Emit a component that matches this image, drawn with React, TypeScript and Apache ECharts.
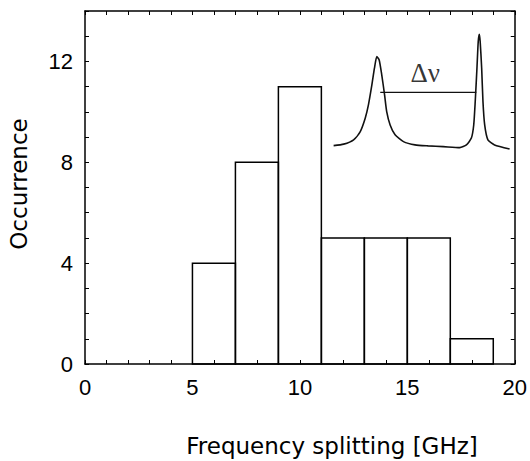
import React, { useEffect, useRef } from "react";
import * as echarts from "echarts";

// Histogram bins (GHz) and occurrences
const binStarts = [5, 7, 9, 11, 13, 15, 17];
const binWidth = 2;
const counts = [4, 8, 11, 5, 5, 5, 1];

// Tick labels
const xTickLabels = [0, 5, 10, 15, 20];
const yTickLabels = [0, 4, 8, 12];

// Inset spectrum (in main-axis units)
const insetX = [11.57, 12.04, 12.5, 12.81, 13.04, 13.19, 13.35, 13.47, 13.58, 13.69, 13.81, 13.94, 14.04, 14.2, 14.43, 14.82, 15.36, 15.97, 16.67, 17.44, 17.75, 17.98, 18.09, 18.16, 18.24, 18.3, 18.35, 18.39, 18.46, 18.52, 18.6, 18.75, 19.06, 19.76];
const insetY = [8.66, 8.72, 8.89, 9.22, 9.75, 10.28, 11.07, 11.73, 12.19, 12.06, 11.47, 10.68, 10.01, 9.48, 9.09, 8.82, 8.69, 8.65, 8.62, 8.58, 8.69, 8.96, 9.48, 10.41, 11.73, 12.79, 13.08, 12.79, 11.73, 10.41, 9.48, 8.89, 8.69, 8.53];

// Splitting marker
const deltaLineX = [13.74, 18.21];
const deltaLineY = 10.77;
const deltaLabel = "Δν";
const deltaLabelPos = [15.83, 11.55];

const xTitle = "Frequency splitting [GHz]";
const yTitle = "Occurrence";

export default function App() {
  const ref = useRef<HTMLDivElement>(null);
  useEffect(() => {
    if (!ref.current) return;
    const chart = echarts.init(ref.current, null, { renderer: "svg" });
    const axisLine = { show: true, onZero: false, lineStyle: { color: "#000", width: 1.5 } };
    const axisTick = { show: true, inside: true, length: 4, lineStyle: { color: "#000", width: 1 } };
    const labelFont = { fontFamily: "Liberation Sans", fontSize: 22, color: "#000" };
    chart.setOption({
      animation: false,
      backgroundColor: "#fff",
      grid: { left: 85, right: 13, top: 11, bottom: 97 },
      xAxis: [
        {
          type: "value", min: 0, max: 20, interval: 1, position: "bottom",
          axisLine, axisTick, splitLine: { show: false },
          axisLabel: { ...labelFont, margin: 12, formatter: (v: number) => (xTickLabels.includes(v) ? String(v) : "") },
        },
        {
          type: "value", min: 0, max: 20, interval: 1, position: "top",
          axisLine, axisTick, splitLine: { show: false }, axisLabel: { show: false },
        },
      ],
      yAxis: [
        {
          type: "value", min: 0, max: 14, interval: 1, position: "left",
          axisLine, axisTick, splitLine: { show: false },
          axisLabel: { ...labelFont, margin: 12, formatter: (v: number) => (yTickLabels.includes(v) ? String(v) : "") },
        },
        {
          type: "value", min: 0, max: 14, interval: 1, position: "right",
          axisLine, axisTick, splitLine: { show: false }, axisLabel: { show: false },
        },
      ],
      graphic: [
        {
          type: "text", x: 332, y: 446,
          style: { text: xTitle, fontFamily: "DejaVu Sans", fontSize: 23, fill: "#000", textAlign: "center", textVerticalAlign: "middle" },
        },
        {
          type: "text", x: 19, y: 184, rotation: Math.PI / 2,
          style: { text: yTitle, fontFamily: "DejaVu Sans", fontSize: 23, fill: "#000", textAlign: "center", textVerticalAlign: "middle" },
        },
      ],
      series: [
        {
          type: "custom",
          xAxisIndex: 0, yAxisIndex: 0,
          data: binStarts.map((s, i) => [s, s + binWidth, counts[i]]),
          encode: { x: [0, 1], y: 2 },
          renderItem: (params: any, api: any) => {
            const p0 = api.coord([api.value(0), 0]);
            const p1 = api.coord([api.value(1), api.value(2)]);
            return {
              type: "rect",
              shape: { x: p0[0], y: p1[1], width: p1[0] - p0[0], height: p0[1] - p1[1] },
              style: { fill: "none", stroke: "#000", lineWidth: 1.5 },
            };
          },
        },
        {
          type: "line",
          data: insetX.map((x, i) => [x, insetY[i]]),
          showSymbol: false, symbol: "none", smooth: 0.2,
          lineStyle: { color: "#111", width: 1.6 },
        },
        {
          type: "line",
          data: deltaLineX.map((x) => [x, deltaLineY]),
          showSymbol: false, symbol: "none",
          lineStyle: { color: "#111", width: 1.3 },
        },
        {
          type: "scatter",
          data: [deltaLabelPos],
          symbolSize: 0,
          label: {
            show: true, position: "inside", formatter: deltaLabel,
            fontFamily: "Liberation Serif", fontSize: 27, color: "#000",
          },
        },
      ],
    });
    return () => chart.dispose();
  }, []);
  return <div ref={ref} style={{ position: "fixed", left: 0, top: 0, width: 530, height: 461 }} />;
}
